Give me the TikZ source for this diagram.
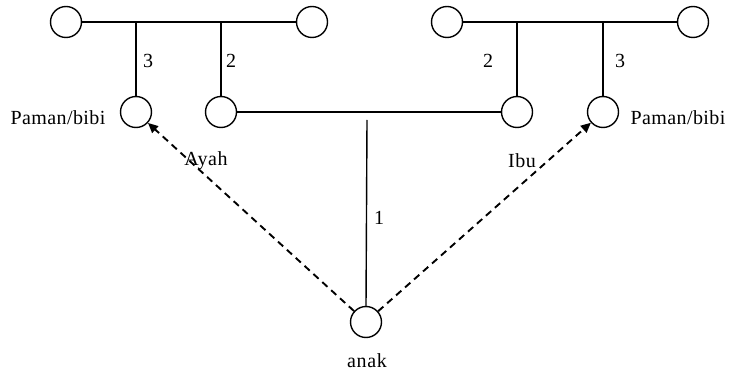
\documentclass[tikz,border=0pt]{standalone}
\usepackage{fontspec}
\setmainfont{Liberation Serif}
\usetikzlibrary{arrows.meta}
\begin{document}
\begin{tikzpicture}[x=1pt,y=-1pt,
  person/.style={circle,draw,line width=1.4pt,minimum size=31pt,inner sep=0pt},
  link/.style={line width=1.4pt},
  rel/.style={line width=1.9pt,dash pattern=on 7pt off 5pt,-{Triangle[length=10pt,width=9pt]}},
  num/.style={font=\fontsize{20}{20}\selectfont,inner sep=0pt},
  lbl/.style={font=\fontsize{20}{20}\selectfont\addfontfeature{LetterSpace=3},inner sep=0pt},
  slbl/.style={font=\fontsize{20}{20}\selectfont\addfontfeature{LetterSpace=2},inner sep=0pt}]
\useasboundingbox (0,0) rectangle (735,371);
% grandparents
\node[person] (ggL1) at (66,22) {};
\node[person] (ggL2) at (312,22) {};
\node[person] (ggR1) at (447,22) {};
\node[person] (ggR2) at (693,22) {};
\coordinate (jL3) at (136,22);
\coordinate (jL2) at (221,22);
\coordinate (jR2) at (517,22);
\coordinate (jR3) at (603,22);
% second row
\node[person] (pamanL) at (136,112) {};
\node[person] (ayah) at (221,112) {};
\node[person] (ibu) at (517,112) {};
\node[person] (pamanR) at (603,112) {};
\node[person] (anak) at (366,322) {};
\coordinate (stem) at (367,120);
% lines
\draw[link] (ggL1) -- (ggL2);
\draw[link] (ggR1) -- (ggR2);
\draw[link] (jL3) -- (pamanL.north);
\draw[link] (jL2) -- (ayah.north);
\draw[link] (jR2) -- (ibu.north);
\draw[link] (jR3) -- (pamanR.north);
\draw[link] (ayah) -- (ibu);
\draw[link] (stem) -- (anak.north);
% dashed arrows
\draw[rel] (anak) -- (pamanL);
\draw[rel] (anak) -- (pamanR);
% numbers
\node[num] at (148,61) {3};
\node[num] at (231,61) {2};
\node[num] at (488,61) {2};
\node[num] at (620,61) {3};
\node[num] at (379,218) {1};
% labels
\node[slbl] at (58,118) {Paman/bibi};
\node[slbl] at (678,118) {Paman/bibi};
\node[lbl] at (206,161) {Ayah};
\node[lbl] at (522,161) {Ibu};
\node[lbl] at (367,361) {anak};
\end{tikzpicture}
\end{document}
